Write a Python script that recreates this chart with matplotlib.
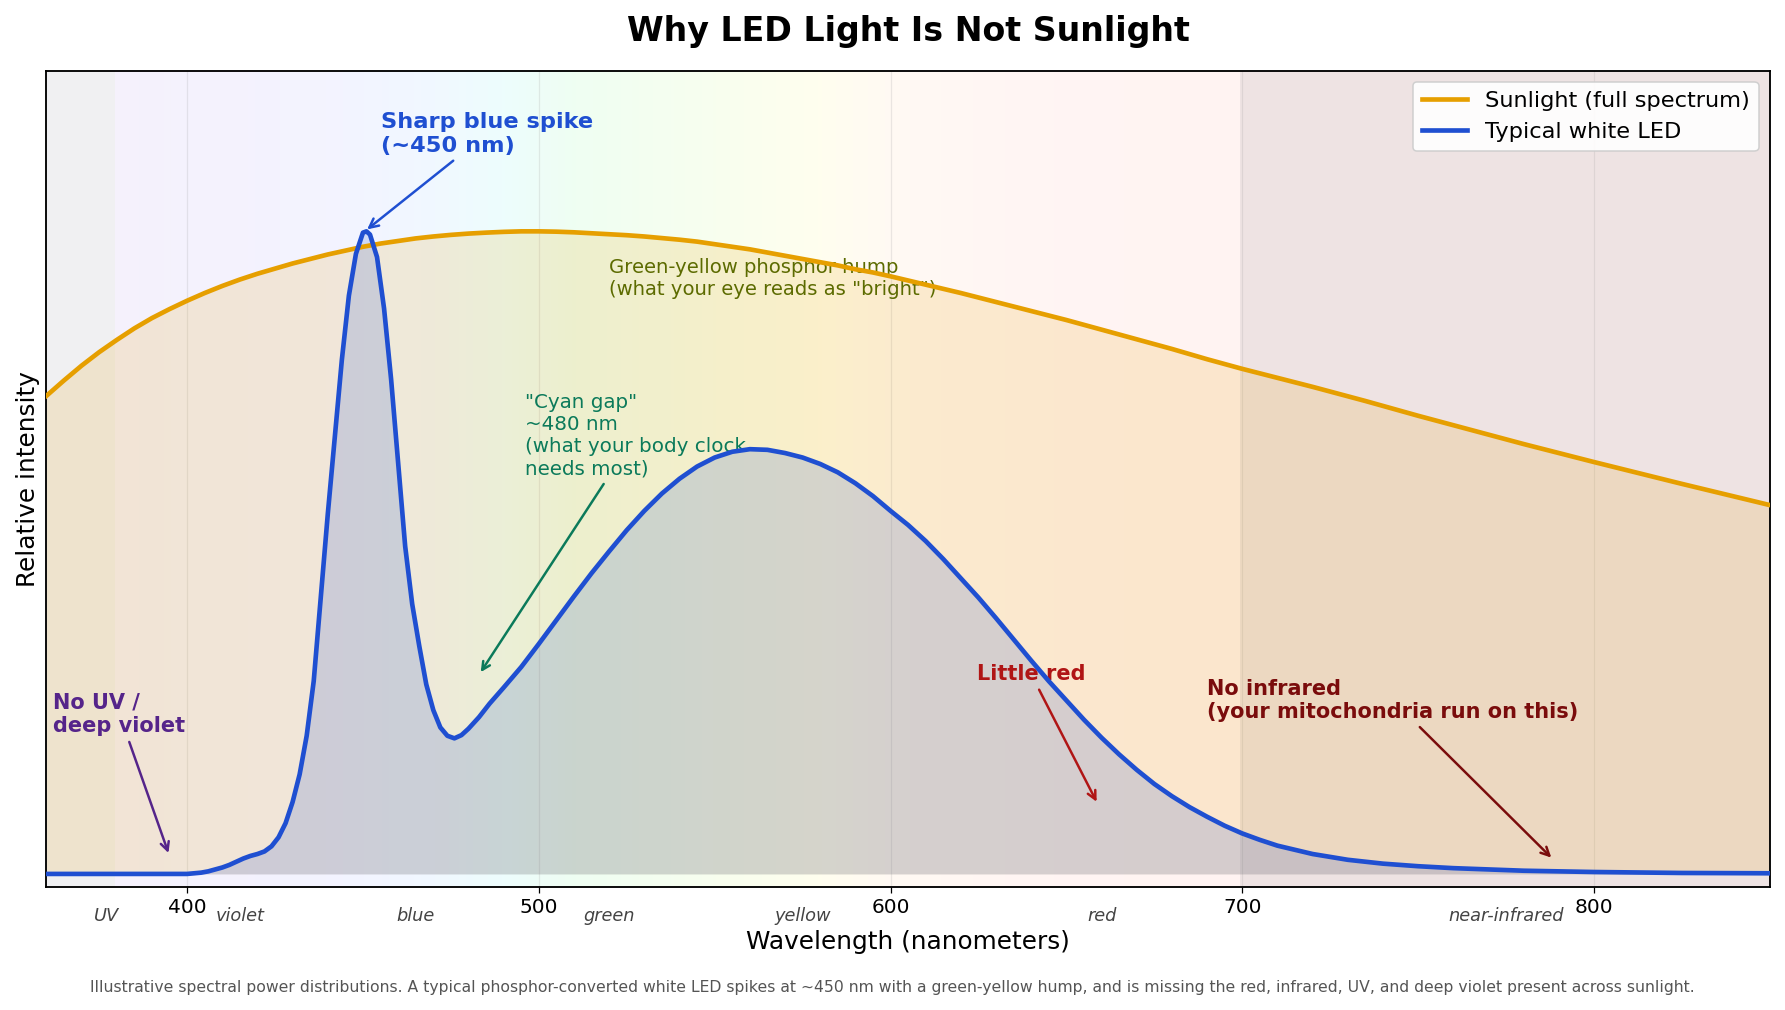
import numpy as np
import matplotlib
matplotlib.use("Agg")
import matplotlib.pyplot as plt

# sunlight curve (nm, relative intensity)
sun_nm = [360, 365, 370, 375, 380, 385, 390, 395, 400, 405, 410, 415, 420, 425,
          430, 435, 440, 445, 450, 455, 460, 465, 470, 475, 480, 485, 490, 495,
          500, 505, 510, 515, 520, 525, 530, 535, 540, 545, 550, 555, 560, 565,
          570, 575, 580, 585, 590, 595, 600, 610, 620, 630, 640, 650, 660, 670,
          680, 690, 700, 710, 720, 735, 750, 765, 780, 800, 825, 850]
sun_val = [0.744, 0.768, 0.791, 0.812, 0.831, 0.849, 0.865, 0.879, 0.892, 0.904,
           0.915, 0.925, 0.934, 0.942, 0.950, 0.957, 0.964, 0.970, 0.976, 0.981,
           0.985, 0.989, 0.992, 0.9945, 0.9965, 0.998, 0.9992, 1.000, 1.000, 0.9995,
           0.9985, 0.997, 0.9955, 0.994, 0.992, 0.9895, 0.987, 0.984, 0.980, 0.976,
           0.972, 0.967, 0.962, 0.957, 0.952, 0.947, 0.941, 0.936, 0.930, 0.917,
           0.904, 0.890, 0.876, 0.862, 0.847, 0.832, 0.817, 0.801, 0.786, 0.772,
           0.758, 0.736, 0.713, 0.691, 0.669, 0.641, 0.607, 0.574]

# typical white LED curve
led_nm = [360, 380, 400, 402, 404, 406, 408, 410, 412, 414, 416, 418, 420, 422,
          424, 426, 428, 430, 432, 434, 436, 438, 440, 442, 444, 446, 448, 450,
          451, 452, 454, 456, 458, 460, 462, 464, 466, 468, 470, 472, 474, 476,
          478, 480, 483, 486, 490, 495, 500, 505, 510, 515, 520, 525, 530, 535,
          540, 545, 550, 555, 560, 565, 570, 575, 580, 585, 590, 595, 600, 605,
          610, 615, 620, 625, 630, 635, 640, 645, 650, 655, 660, 665, 670, 675,
          680, 685, 690, 695, 700, 705, 710, 720, 730, 740, 750, 760, 770, 780,
          790, 800, 825, 850]
led_val = [0.0, 0.0, 0.0, 0.001, 0.002, 0.004, 0.007, 0.010, 0.014, 0.019, 0.024,
           0.028, 0.031, 0.035, 0.043, 0.057, 0.079, 0.112, 0.155, 0.215, 0.300,
           0.430, 0.560, 0.680, 0.800, 0.900, 0.965, 0.998, 1.000, 0.995, 0.960,
           0.880, 0.770, 0.640, 0.510, 0.420, 0.355, 0.295, 0.255, 0.228, 0.215,
           0.211, 0.216, 0.226, 0.244, 0.265, 0.290, 0.322, 0.358, 0.395, 0.432,
           0.468, 0.502, 0.535, 0.565, 0.592, 0.615, 0.634, 0.648, 0.657, 0.661,
           0.660, 0.655, 0.648, 0.638, 0.625, 0.608, 0.588, 0.565, 0.543, 0.518,
           0.490, 0.460, 0.430, 0.398, 0.365, 0.332, 0.300, 0.270, 0.240, 0.212,
           0.186, 0.162, 0.140, 0.121, 0.104, 0.089, 0.075, 0.063, 0.053, 0.044,
           0.031, 0.022, 0.016, 0.012, 0.009, 0.007, 0.005, 0.004, 0.003, 0.0015,
           0.001]

xticks = [400, 500, 600, 700, 800]

band_names = ["UV", "violet", "blue", "green", "yellow", "red", "near-infrared"]
band_pos = [377, 415, 465, 520, 575, 660, 775]

SUN = "#e69f00"
LED = "#1f4fd1"

# background tint stops (nm, rgb) for the spectrum strip
tint_nm = [380, 440, 470, 490, 510, 550, 580, 600, 640, 700]
tint_rgb = [(0.45, 0.25, 0.85), (0.35, 0.35, 1.0), (0.2, 0.6, 1.0), (0.0, 0.9, 0.9),
            (0.1, 0.95, 0.3), (0.6, 0.95, 0.1), (1.0, 0.95, 0.1), (1.0, 0.7, 0.35),
            (1.0, 0.45, 0.35), (1.0, 0.35, 0.3)]

fig = plt.figure(figsize=(16, 1010 / 111.5625), dpi=111.5625)
ax = fig.add_axes([0.026, 0.122, 0.9655, 0.808])

# spectral background strip
wl = np.arange(360, 851)
tint = np.array(tint_rgb)
strip = np.ones((1, len(wl), 3))
for i, w in enumerate(wl):
    if w < 380:
        c, a = np.array([0.5, 0.5, 0.55]), 0.11
    elif w >= 700:
        c, a = np.array([0.45, 0.1, 0.1]), 0.12
    else:
        c = np.array([np.interp(w, tint_nm, tint[:, k]) for k in range(3)])
        a = 0.07
    strip[0, i] = 1 - a * (1 - c)
ax.imshow(strip, extent=(359.5, 850.5, -0.02, 1.25), aspect="auto", zorder=0)

for t in xticks:
    ax.axvline(t, color="#999999", lw=0.8, alpha=0.2, zorder=1)

ax.fill_between(sun_nm, 0, sun_val, color=SUN, alpha=0.15, lw=0, zorder=2)
ax.fill_between(led_nm, 0, led_val, color=LED, alpha=0.17, lw=0, zorder=3)
ax.plot(sun_nm, sun_val, color=SUN, lw=3, label="Sunlight (full spectrum)", zorder=4)
ax.plot(led_nm, led_val, color=LED, lw=3, label="Typical white LED", zorder=5)

ax.set_xlim(360, 850)
ax.set_ylim(-0.02, 1.25)
ax.set_xticks(xticks)
ax.set_yticks([])
ax.tick_params(axis="x", labelsize=13, length=4)
for s in ax.spines.values():
    s.set_linewidth(1.2)

ax.set_title("Why LED Light Is Not Sunlight", fontsize=21.5, fontweight="bold", pad=19)
ax.set_xlabel("Wavelength (nanometers)", fontsize=16, labelpad=8)
ax.set_ylabel("Relative intensity", fontsize=16)

for name, p in zip(band_names, band_pos):
    ax.text(p, -0.036, name, transform=ax.get_xaxis_transform(), ha="center",
            va="center", fontsize=11.5, style="italic", color="#444444")

ax.annotate("Sharp blue spike\n(~450 nm)", xy=(450.5, 1.0), xytext=(455, 1.185),
            fontsize=14.5, fontweight="bold", color=LED, ha="left", va="top",
            arrowprops=dict(arrowstyle="->", color=LED, lw=1.6))
ax.text(520, 0.958, 'Green-yellow phosphor hump\n(what your eye reads as "bright")',
        fontsize=12.7, color="#5c6b00", ha="left", va="top")
ax.annotate('"Cyan gap"\n~480 nm\n(what your body clock\nneeds most)', xy=(483, 0.31),
            xytext=(496, 0.748), fontsize=12.8, color="#0b7a5a", ha="left", va="top",
            arrowprops=dict(arrowstyle="->", color="#0b7a5a", lw=1.6))
ax.annotate("No UV /\ndeep violet", xy=(395, 0.028), xytext=(362, 0.282),
            fontsize=13.5, fontweight="bold", color="#55248a", ha="left", va="top",
            arrowprops=dict(arrowstyle="->", color="#55248a", lw=1.6))
ax.annotate("Little red", xy=(659, 0.108), xytext=(624.5, 0.327),
            fontsize=13.5, fontweight="bold", color="#b01515", ha="left", va="top",
            arrowprops=dict(arrowstyle="->", color="#b01515", lw=1.6))
ax.annotate("No infrared\n(your mitochondria run on this)", xy=(788.5, 0.022),
            xytext=(690, 0.304), fontsize=13.5, fontweight="bold", color="#7a0c0c",
            ha="left", va="top",
            arrowprops=dict(arrowstyle="->", color="#7a0c0c", lw=1.6))

ax.legend(loc="upper right", fontsize=14.5, framealpha=0.9)

fig.text(0.5, 0.022,
         "Illustrative spectral power distributions. A typical phosphor-converted white LED "
         "spikes at ~450 nm with a green-yellow hump, and is missing the red, infrared, UV, "
         "and deep violet present across sunlight.",
         ha="center", va="center", fontsize=10.1, color="#555555")

fig.savefig("out.png", dpi=111.5625)
